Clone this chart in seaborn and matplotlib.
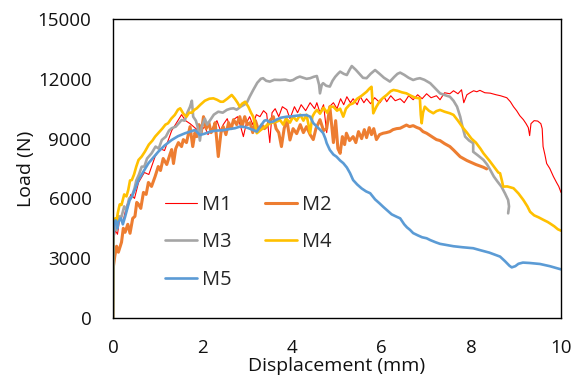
import matplotlib
matplotlib.use("Agg")
import matplotlib.pyplot as plt
import seaborn as sns
import pandas as pd

# ---------------- data ----------------
m1_x = [0.00, 0.01, 0.05, 0.10, 0.15, 0.22, 0.30, 0.40, 0.48, 0.57, 0.70, 0.80, 0.94, 1.05, 1.15,
        1.31, 1.42, 1.53, 1.62, 1.72, 1.85, 1.94, 2.05, 2.12, 2.24, 2.32, 2.40, 2.46, 2.55, 2.62,
        2.69, 2.78, 2.85, 2.91, 2.98, 3.05, 3.12, 3.20, 3.28, 3.36, 3.43, 3.50, 3.55, 3.62, 3.70,
        3.78, 3.88, 3.95, 4.05, 4.12, 4.20, 4.30, 4.40, 4.50, 4.55, 4.62, 4.70, 4.77, 4.83, 4.92,
        5.00, 5.08, 5.15, 5.22, 5.30, 5.36, 5.45, 5.52, 5.60, 5.66, 5.75, 5.84, 5.96, 6.05, 6.11,
        6.20, 6.30, 6.41, 6.50, 6.60, 6.70, 6.80, 6.90, 7.00, 7.10, 7.22, 7.30, 7.40, 7.52, 7.60,
        7.70, 7.78, 7.83, 7.90, 7.97, 8.05, 8.12, 8.19, 8.30, 8.42, 8.55, 8.65, 8.79, 8.87, 8.94,
        9.01, 9.08, 9.16, 9.22, 9.27, 9.30, 9.33, 9.40, 9.48, 9.55, 9.58, 9.60, 9.64, 9.68, 9.75,
        9.83, 9.90, 9.95, 10.00]
m1_y = [0, 3800, 4400, 4200, 5000, 4800, 5600, 6200, 6000, 6800, 7300, 7200, 8100, 8500, 8400,
        9400, 9800, 10200, 9900, 9750, 9500, 9350, 9600, 9200, 9600, 9900, 9400, 9700, 10000, 9500,
        9950, 10100, 9600, 9100, 9800, 10100, 9700, 10200, 10100, 10400, 10250, 8800, 10300, 10500, 10100,
        10600, 10450, 10000, 10600, 10300, 10700, 10400, 10800, 10500, 10800, 10300, 10700, 9300, 10600, 10800,
        10500, 11000, 10700, 11100, 10800, 11000, 10700, 11100, 10800, 11000, 10750, 11050, 10800, 11100, 10850,
        11150, 10900, 11000, 10800, 11150, 10950, 11200, 11000, 11250, 11050, 11150, 10950, 11300, 11250, 11400,
        11250, 11450, 10800, 11200, 11300, 11400, 11350, 11420, 11300, 11280, 11200, 11150, 11050, 10850, 10600,
        10400, 10150, 9950, 9750, 9550, 9150, 9750, 9900, 9880, 9750, 9500, 8600, 8200, 7750, 7500,
        7100, 6800, 6600, 6300]

m2_x = [0.00, 0.01, 0.04, 0.08, 0.12, 0.19, 0.23, 0.27, 0.33, 0.38, 0.44, 0.49, 0.53, 0.57, 0.62,
        0.68, 0.74, 0.79, 0.86, 0.94, 1.01, 1.06, 1.12, 1.20, 1.27, 1.31, 1.35, 1.40, 1.46, 1.53,
        1.57, 1.64, 1.72, 1.78, 1.83, 1.87, 1.92, 1.97, 2.02, 2.08, 2.14, 2.19, 2.24, 2.28, 2.35,
        2.41, 2.46, 2.52, 2.58, 2.64, 2.69, 2.76, 2.83, 2.88, 2.94, 3.00, 3.06, 3.12, 3.18, 3.25,
        3.32, 3.38, 3.43, 3.50, 3.58, 3.64, 3.70, 3.76, 3.82, 3.88, 3.95, 4.02, 4.10, 4.18, 4.25,
        4.32, 4.40, 4.47, 4.53, 4.62, 4.70, 4.77, 4.84, 4.88, 4.92, 4.97, 5.02, 5.07, 5.12, 5.17,
        5.21, 5.28, 5.36, 5.42, 5.48, 5.55, 5.61, 5.66, 5.72, 5.77, 5.82, 5.88, 5.95, 6.03, 6.10,
        6.18, 6.25, 6.33, 6.41, 6.48, 6.55, 6.62, 6.70, 6.78, 6.85, 6.92, 7.00, 7.08, 7.15, 7.22,
        7.30, 7.40, 7.52, 7.60, 7.68, 7.75, 7.82, 7.90, 8.00, 8.10, 8.20, 8.27, 8.34]
m2_y = [0, 2600, 3100, 3600, 3300, 3800, 4500, 4300, 4700, 4250, 5000, 5100, 5800, 5700, 5500,
        6300, 6200, 6800, 6600, 7100, 7600, 7400, 8000, 7700, 8200, 8450, 7750, 8500, 8800, 8600,
        8950, 8800, 9600, 8600, 9300, 9100, 9700, 9300, 10100, 9500, 9800, 9300, 9500, 9800, 8100,
        9300, 9600, 9200, 9800, 9500, 9950, 9700, 10100, 9600, 10100, 9700, 9800, 9300, 9900, 9400,
        9700, 9500, 9600, 9900, 10100, 9500, 9300, 8600, 9500, 9950, 8930, 9500, 9250, 9700, 9300,
        9600, 9200, 8950, 9500, 9950, 9400, 9500, 10600, 9700, 8800, 9900, 8500, 8260, 9100, 8700,
        9270, 8900, 9100, 8800, 9350, 9000, 9450, 9050, 9550, 9200, 9500, 8950, 9200, 9270, 9300,
        9350, 9450, 9500, 9520, 9600, 9680, 9600, 9650, 9560, 9500, 9350, 9270, 9150, 9050, 8950,
        8900, 8750, 8600, 8430, 8250, 8090, 8000, 7900, 7800, 7700, 7620, 7560, 7480]

m3_x = [0.00, 0.01, 0.04, 0.08, 0.13, 0.19, 0.25, 0.30, 0.36, 0.42, 0.48, 0.52, 0.58, 0.64, 0.70,
        0.76, 0.86, 0.95, 1.02, 1.09, 1.18, 1.25, 1.31, 1.40, 1.48, 1.53, 1.60, 1.66, 1.72, 1.76,
        1.79, 1.85, 1.90, 1.94, 1.98, 2.05, 2.10, 2.17, 2.25, 2.35, 2.45, 2.54, 2.62, 2.69, 2.76,
        2.85, 2.98, 3.05, 3.13, 3.22, 3.30, 3.35, 3.42, 3.50, 3.60, 3.73, 3.85, 3.95, 4.02, 4.10,
        4.17, 4.25, 4.32, 4.40, 4.48, 4.55, 4.60, 4.62, 4.66, 4.69, 4.76, 4.84, 4.90, 4.96, 5.02,
        5.07, 5.15, 5.22, 5.28, 5.33, 5.42, 5.50, 5.58, 5.66, 5.75, 5.85, 5.95, 6.05, 6.12, 6.18,
        6.28, 6.35, 6.41, 6.50, 6.60, 6.70, 6.78, 6.85, 6.95, 7.08, 7.18, 7.30, 7.45, 7.52, 7.60,
        7.68, 7.75, 7.80, 7.86, 7.95, 8.04, 8.04, 8.15, 8.27, 8.35, 8.42, 8.50, 8.58, 8.67, 8.75,
        8.82, 8.84, 8.82]
m3_y = [0, 4000, 4700, 4400, 5100, 5080, 5600, 5400, 6000, 6090, 6500, 6900, 7200, 7590, 7600,
        8000, 8260, 8600, 8500, 8930, 9100, 9400, 9520, 9600, 9800, 9930, 9900, 10300, 10600, 10900,
        10100, 9900, 9500, 8900, 9600, 10000, 9700, 9930, 10200, 10350, 10300, 10440, 10500, 10520, 10450,
        10600, 10770, 11100, 11440, 11800, 12000, 12030, 11900, 11860, 11950, 11940, 11960, 11900, 11940, 12050,
        12110, 12050, 12000, 12030, 12100, 12140, 11700, 11270, 11700, 11780, 11650, 11610, 11900, 12100, 12250,
        12360, 12250, 12190, 12450, 12640, 12450, 12250, 12050, 12030, 12250, 12440, 12250, 12050, 11950, 11860,
        12100, 12250, 12310, 12200, 12050, 11940, 12000, 12030, 11950, 11780, 11550, 11270, 11150, 11100, 10900,
        10600, 10100, 9600, 9100, 8900, 8770, 8340, 8150, 7930, 7700, 7430, 7100, 6850, 6590, 6250,
        5920, 5600, 5250]

m4_x = [0.00, 0.01, 0.05, 0.08, 0.11, 0.15, 0.19, 0.25, 0.30, 0.34, 0.38, 0.42, 0.47, 0.52, 0.57,
        0.64, 0.71, 0.80, 0.88, 0.94, 1.02, 1.10, 1.17, 1.23, 1.30, 1.38, 1.45, 1.50, 1.57, 1.64,
        1.70, 1.76, 1.82, 1.87, 1.95, 2.05, 2.15, 2.24, 2.32, 2.40, 2.46, 2.55, 2.65, 2.72, 2.78,
        2.83, 2.88, 2.95, 3.02, 3.08, 3.13, 3.17, 3.21, 3.28, 3.35, 3.45, 3.55, 3.65, 3.73, 3.80,
        3.86, 3.95, 4.02, 4.10, 4.18, 4.25, 4.32, 4.40, 4.45, 4.50, 4.55, 4.62, 4.70, 4.78, 4.85,
        4.92, 5.00, 5.07, 5.14, 5.20, 5.28, 5.36, 5.45, 5.55, 5.66, 5.72, 5.77, 5.79, 5.81, 5.88,
        5.96, 6.03, 6.11, 6.20, 6.26, 6.35, 6.45, 6.55, 6.65, 6.75, 6.85, 6.87, 6.89, 6.92, 6.96,
        7.05, 7.15, 7.22, 7.30, 7.40, 7.52, 7.60, 7.70, 7.82, 7.90, 8.00, 8.10, 8.20, 8.27, 8.40,
        8.50, 8.60, 8.64, 8.68, 8.71, 8.80, 8.94, 9.05, 9.16, 9.25, 9.31, 9.40, 9.50, 9.61, 9.70,
        9.75, 9.85, 9.93, 10.00]
m4_y = [0, 4580, 5000, 4900, 5300, 5700, 5670, 6200, 6100, 6420, 6900, 6920, 7200, 7600, 7930,
        8100, 8340, 8700, 8900, 9100, 9300, 9500, 9700, 9770, 10000, 10190, 10450, 10520, 10250, 10100,
        10300, 10300, 10450, 10520, 10700, 10900, 11000, 11020, 10950, 10850, 10850, 11000, 11190, 11000, 10800,
        10600, 10750, 10850, 10600, 10300, 10100, 9700, 9270, 9400, 9520, 9700, 9800, 9850, 9930, 9700,
        10000, 9800, 10100, 9900, 10200, 9900, 10200, 9270, 10100, 10300, 10440, 10250, 10550, 10300, 10600,
        10600, 10400, 10500, 10100, 10500, 10700, 10770, 11000, 11150, 11350, 11500, 11600, 10900, 10270, 10600,
        10900, 11050, 11190, 11380, 11440, 11400, 11320, 11270, 11150, 11050, 11020, 10200, 9770, 10300, 10600,
        10400, 10270, 10380, 10440, 10350, 10270, 10190, 9900, 9520, 9300, 9000, 8800, 8500, 8260, 7900,
        7600, 7300, 7260, 6900, 6590, 6600, 6510, 6250, 5920, 5600, 5330, 5150, 5050, 4920, 4820,
        4750, 4600, 4450, 4380]

m5_x = [0.000, 0.005, 0.02, 0.06, 0.10, 0.12, 0.18, 0.22, 0.27, 0.32, 0.37, 0.42, 0.50, 0.57, 0.68,
        0.79, 0.90, 1.01, 1.15, 1.31, 1.45, 1.61, 1.72, 1.83, 1.94, 2.05, 2.17, 2.30, 2.45, 2.60,
        2.72, 2.83, 2.95, 3.05, 3.13, 3.21, 3.30, 3.38, 3.43, 3.50, 3.57, 3.65, 3.75, 3.88, 4.00,
        4.10, 4.20, 4.32, 4.40, 4.47, 4.55, 4.62, 4.69, 4.74, 4.77, 4.84, 4.92, 4.99, 5.07, 5.14,
        5.22, 5.29, 5.36, 5.45, 5.55, 5.65, 5.74, 5.85, 5.95, 6.03, 6.12, 6.22, 6.33, 6.41, 6.50,
        6.56, 6.63, 6.70, 6.80, 6.90, 7.00, 7.08, 7.20, 7.30, 7.45, 7.60, 7.80, 8.04, 8.20, 8.40,
        8.64, 8.75, 8.85, 8.90, 8.98, 9.05, 9.15, 9.30, 9.53, 9.75, 10.00]
m5_y = [0, 4000, 4700, 4900, 4500, 4830, 5000, 4700, 5080, 5500, 5900, 6090, 6500, 6920, 7350,
        7760, 8050, 8340, 8650, 8930, 9120, 9270, 9350, 9430, 9180, 9250, 9350, 9400, 9420, 9480,
        9520, 9600, 9580, 9500, 9430, 9350, 9650, 9900, 9930, 9820, 9850, 9950, 10050, 10100, 10120,
        10150, 10170, 10180, 10100, 9780, 9600, 9450, 9280, 9000, 8770, 8430, 8200, 8090, 7900, 7770,
        7550, 7270, 6920, 6700, 6500, 6350, 6260, 5950, 5750, 5580, 5400, 5200, 5080, 5000, 4700,
        4550, 4420, 4260, 4150, 4050, 4000, 3910, 3800, 3720, 3660, 3600, 3550, 3500, 3400, 3280,
        3080, 2850, 2620, 2540, 2600, 2720, 2780, 2760, 2710, 2600, 2440]

series_names = ["M1", "M2", "M3", "M4", "M5"]
x_ticks = [0, 2, 4, 6, 8, 10]
y_ticks = [0, 3000, 6000, 9000, 12000, 15000]
x_label = "Displacement (mm)"
y_label = "Load (N)"

colors = {"M1": "#FF0000", "M2": "#ED7D31", "M3": "#A5A5A5", "M4": "#FFC000", "M5": "#5B9BD5"}
widths = {"M1": 0.8, "M2": 2.2, "M3": 1.9, "M4": 1.9, "M5": 1.9}

# ---------------- figure ----------------
sns.set_theme(style="white")
plt.rcParams["font.family"] = ["Open Sans", "DejaVu Sans"]

fig = plt.figure(figsize=(5.81, 3.80), dpi=100)
ax = fig.add_axes([113 / 581, 1 - 318 / 380, 448 / 581, 299 / 380])

data = {"M1": (m1_x, m1_y), "M2": (m2_x, m2_y), "M3": (m3_x, m3_y),
        "M4": (m4_x, m4_y), "M5": (m5_x, m5_y)}
for name in series_names:
    xs, ys = data[name]
    df = pd.DataFrame({"x": xs, "y": ys})
    sns.lineplot(data=df, x="x", y="y", ax=ax, sort=False, estimator=None,
                 color=colors[name], linewidth=widths[name], label=name)

ax.set_xlim(0, 10)
ax.set_ylim(0, 15000)
ax.set_xticks(x_ticks)
ax.set_yticks(y_ticks)
ax.set_xticklabels([str(t) for t in x_ticks])
ax.set_yticklabels([str(t) for t in y_ticks])
ax.tick_params(axis="both", which="major", direction="out", length=5, width=1,
               color="black", labelsize=13.5, labelcolor="#111111")
ax.tick_params(axis="y", pad=10.5)
ax.tick_params(axis="x", pad=10)
ax.set_xlabel(x_label, fontsize=14, labelpad=0, color="#111111")
ax.set_ylabel(y_label, fontsize=14, labelpad=2, color="#111111")
for s in ax.spines.values():
    s.set_visible(True)
    s.set_color("black")
    s.set_linewidth(1.0)

# Legend: rows (M1 M2), (M3 M4), (M5) -> matplotlib fills columns first
handles, labels = ax.get_legend_handles_labels()
order = [0, 2, 4, 1, 3]
ax.legend([handles[i] for i in order], [labels[i] for i in order],
          loc="upper left", bbox_to_anchor=(0.116, 0.413), ncol=2, frameon=False,
          fontsize=14.4, handlelength=1.6, handletextpad=0.23, columnspacing=1.7,
          labelspacing=0.88, borderpad=0, borderaxespad=0)

fig.savefig("out.png", dpi=100)
